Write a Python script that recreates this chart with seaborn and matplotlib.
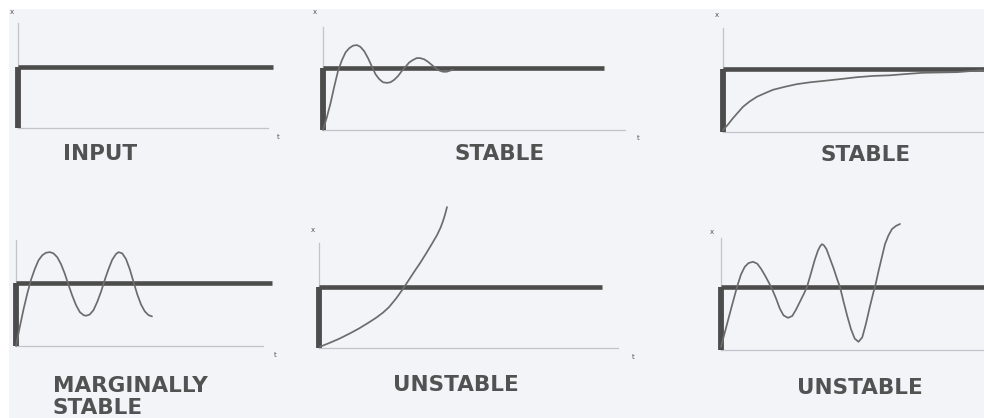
import matplotlib
matplotlib.use("Agg")
import matplotlib.pyplot as plt
from matplotlib.patches import Rectangle
import seaborn as sns

# ---------------------------------------------------------------------------
# Responses to a unit step input; time in arbitrary units, response
# normalised so that the step level is 1.
# ---------------------------------------------------------------------------
titles = ["INPUT", "STABLE", "STABLE", "MARGINALLY\nSTABLE", "UNSTABLE", "UNSTABLE"]

# step input length (time) shown in each panel
step_end = [10.2, 11.24, 10.6, 10.24, 11.32, 10.6]
# length of the time axis in each panel
axis_end = [10.0, 12.08, 10.6, 9.88, 11.96, 10.6]
# height of the response axis in each panel
axis_top = [1.72, 1.66, 1.65, 1.68, 1.72, 1.78]

# damped oscillation (stable)
damped_t = [0.0, 0.15, 0.3, 0.45, 0.6, 0.75, 0.9, 1.05, 1.2, 1.36, 1.5, 1.65,
            1.8, 1.96, 2.1, 2.25, 2.4, 2.56, 2.7, 2.85, 3.0, 3.15, 3.3, 3.45,
            3.6, 3.75, 3.88, 4.05, 4.2, 4.35, 4.5, 4.65, 4.8, 4.95, 5.1, 5.2]
damped_x = [0.0, 0.2, 0.43, 0.7, 0.95, 1.12, 1.25, 1.32, 1.36, 1.37, 1.34, 1.27,
            1.16, 1.02, 0.9, 0.82, 0.77, 0.76, 0.77, 0.81, 0.87, 0.95, 1.02, 1.09,
            1.13, 1.16, 1.16, 1.14, 1.1, 1.05, 1.0, 0.96, 0.94, 0.94, 0.96, 0.97]

# overdamped approach (stable)
approach_t = [0.0, 0.2, 0.4, 0.6, 0.8, 1.05, 1.36, 1.7, 2.0, 2.5, 2.96, 3.5,
              4.0, 4.7, 5.36, 6.0, 6.68, 7.3, 8.0, 8.7, 9.36, 10.0, 10.4]
approach_x = [0.03, 0.12, 0.22, 0.31, 0.40, 0.48, 0.56, 0.62, 0.67, 0.72, 0.76, 0.79,
              0.81, 0.84, 0.87, 0.89, 0.90, 0.92, 0.94, 0.945, 0.95, 0.97, 0.98]

# sustained oscillation (marginally stable)
sustained_t = [0.0, 0.15, 0.3, 0.45, 0.6, 0.75, 0.9, 1.05, 1.2, 1.36, 1.5, 1.65,
               1.8, 1.95, 2.1, 2.25, 2.4, 2.55, 2.7, 2.8, 2.95, 3.1, 3.25, 3.4,
               3.55, 3.7, 3.85, 4.0, 4.1, 4.25, 4.4, 4.55, 4.7, 4.85, 5.0, 5.15,
               5.3, 5.44]
sustained_x = [0.0, 0.3, 0.58, 0.83, 1.05, 1.22, 1.36, 1.44, 1.48, 1.49, 1.47, 1.41,
               1.3, 1.15, 0.97, 0.8, 0.65, 0.54, 0.49, 0.48, 0.5, 0.57, 0.7, 0.86,
               1.05, 1.22, 1.37, 1.46, 1.49, 1.47, 1.38, 1.22, 1.02, 0.82, 0.66, 0.55,
               0.49, 0.47]

# monotonic divergence (unstable)
diverge_t = [0.04, 0.4, 0.8, 1.24, 1.6, 2.0, 2.3, 2.56, 2.8, 3.1, 3.36, 3.6,
             3.84, 4.04, 4.3, 4.52, 4.72, 4.86, 4.96, 5.05, 5.12]
diverge_x = [0.02, 0.08, 0.15, 0.24, 0.32, 0.42, 0.5, 0.58, 0.67, 0.82, 0.97, 1.12,
             1.27, 1.39, 1.56, 1.71, 1.85, 1.97, 2.08, 2.2, 2.31]

# growing oscillation (unstable)
growing_t = [0.0, 0.2, 0.4, 0.64, 0.8, 0.95, 1.1, 1.28, 1.45, 1.6, 1.75, 1.9,
             2.04, 2.2, 2.35, 2.5, 2.68, 2.85, 3.0, 3.15, 3.3, 3.44, 3.6, 3.75,
             3.88, 3.97, 4.04, 4.12, 4.22, 4.35, 4.5, 4.65, 4.76, 4.9, 5.05, 5.2,
             5.35, 5.5, 5.65, 5.8, 5.95, 6.1, 6.16, 6.3, 6.45, 6.56, 6.7, 6.84,
             7.0, 7.16]
growing_x = [0.05, 0.35, 0.65, 1.0, 1.2, 1.32, 1.38, 1.40, 1.37, 1.29, 1.19, 1.08,
             0.97, 0.82, 0.66, 0.55, 0.51, 0.54, 0.64, 0.76, 0.88, 1.0, 1.22, 1.43,
             1.58, 1.65, 1.68, 1.66, 1.6, 1.46, 1.3, 1.12, 1.0, 0.77, 0.54, 0.33,
             0.18, 0.13, 0.2, 0.42, 0.68, 0.92, 1.0, 1.25, 1.5, 1.68, 1.82, 1.92,
             1.97, 2.0]

responses = [None,
             (damped_t, damped_x),
             (approach_t, approach_x),
             (sustained_t, sustained_x),
             (diverge_t, diverge_x),
             (growing_t, growing_x)]

# ---------------------------------------------------------------------------
# Layout (pixels on a 984 x 418 canvas)
# ---------------------------------------------------------------------------
FIG_W, FIG_H = 984, 418
PX_PER_T = 25.0
# origin of each panel and pixel height of the unit step
origins = [(18, 128, 61), (323, 130, 62), (723, 132, 63),
           (16, 346, 63), (319, 348, 61), (721, 350, 63)]
title_pos = [(63, 154), (455, 154), (820, 155), (53, 397), (393, 385), (797, 388)]
x_label_pos = [(-0.24, 1.9), (-0.32, 1.9), (-0.24, 1.86), None, (-0.24, 1.93), (-0.36, 1.87)]
t_label_pos = [(10.4, -0.15), (12.6, -0.13), None, (10.36, -0.14), (12.56, -0.15), None]

STEP_COLOR = "#4c4c4c"
CURVE_COLOR = "#6c6c6c"
AXIS_COLOR = "#c2c4ca"
TEXT_COLOR = "#525252"
BG_COLOR = "#f2f4f8"

sns.set_theme(style="white")
plt.rcParams["font.family"] = ["DejaVu Sans"]

fig = plt.figure(figsize=(FIG_W / 100, FIG_H / 100), dpi=100)
fig.patch.set_facecolor("white")
fig.add_artist(Rectangle((9 / FIG_W, 0), 1 - 9 / FIG_W, 1 - 9 / FIG_H,
                         transform=fig.transFigure, facecolor=BG_COLOR,
                         edgecolor="none", zorder=-10))

LEFT, RIGHT, UP, DOWN = 16, 300, 150, 18

for i, (x0, y0, h) in enumerate(origins):
    ax = fig.add_axes([(x0 - LEFT) / FIG_W, (FIG_H - (y0 + DOWN)) / FIG_H,
                       (LEFT + RIGHT) / FIG_W, (UP + DOWN) / FIG_H])
    ax.set_xlim(-LEFT / PX_PER_T, RIGHT / PX_PER_T)
    ax.set_ylim(-DOWN / h, UP / h)
    ax.patch.set_visible(False)
    ax.set_xticks([])
    ax.set_yticks([])
    for side in ("top", "right"):
        ax.spines[side].set_visible(False)
    for side in ("left", "bottom"):
        ax.spines[side].set_position(("data", 0))
        ax.spines[side].set_color(AXIS_COLOR)
        ax.spines[side].set_linewidth(0.9)
        ax.spines[side].set_zorder(1)
    ax.spines["left"].set_bounds(0, axis_top[i])
    ax.spines["bottom"].set_bounds(0, axis_end[i])

    # step input
    sns.lineplot(x=[0, 0], y=[0, 1], sort=False, estimator=None, ax=ax,
                 color=STEP_COLOR, linewidth=4.2, solid_capstyle="butt",
                 clip_on=False, zorder=3)
    sns.lineplot(x=[0, step_end[i]], y=[1, 1], sort=False, estimator=None, ax=ax,
                 color=STEP_COLOR, linewidth=3.3, solid_capstyle="butt",
                 clip_on=False, zorder=3)

    # system response
    if responses[i] is not None:
        t_vals, x_vals = responses[i]
        sns.lineplot(x=t_vals, y=x_vals, sort=False, estimator=None, ax=ax,
                     color=CURVE_COLOR, linewidth=1.25, clip_on=False, zorder=4)

    if x_label_pos[i] is not None:
        ax.text(*x_label_pos[i], "x", fontsize=5, color=TEXT_COLOR,
                ha="center", va="center", clip_on=False)
    if t_label_pos[i] is not None:
        ax.text(*t_label_pos[i], "t", fontsize=5, color=TEXT_COLOR,
                ha="center", va="center", clip_on=False)

    tx, ty = title_pos[i]
    fig.text(tx / FIG_W, 1 - ty / FIG_H, titles[i], ha="left", va="center",
             fontsize=15.5, fontweight="bold", color=TEXT_COLOR,
             linespacing=1.15)

fig.savefig("out.png", dpi=100)
